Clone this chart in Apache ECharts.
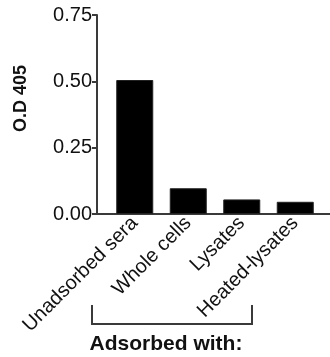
<!DOCTYPE html>
<html><head><meta charset="utf-8">
<script src="https://cdn.jsdelivr.net/npm/echarts@6/dist/echarts.min.js"></script>
<style>html,body{margin:0;padding:0;background:#fff}#c{width:330px;height:357px}</style>
</head><body><div id="c"></div>
<script>
const categories = ['Unadsorbed sera', 'Whole cells', 'Lysates', 'Heated-lysates'];
const odValues = [0.505, 0.097, 0.055, 0.046];
const yTicks = [0, 0.25, 0.5, 0.75];
const yTitle = 'O.D 405';
const groupTitle = 'Adsorbed with:';

const FONT = '"Liberation Sans", Arial, sans-serif';
const axisColor = '#3a3a3a';
const chart = echarts.init(document.getElementById('c'), null, {renderer: 'canvas'});
chart.setOption({
  animation: false,
  backgroundColor: '#fff',
  textStyle: {fontFamily: FONT},
  grid: [
    {left: 108, right: 8, top: 15, bottom: 143},
    {left: 97, right: 0, top: 15, bottom: 143}
  ],
  xAxis: [
    {type: 'category', gridIndex: 0, data: categories,
     axisLine: {show: false}, axisTick: {show: false},
     axisLabel: {rotate: 45, interval: 0, fontSize: 20, color: '#111', fontFamily: FONT, margin: 6}},
    {type: 'value', gridIndex: 1, min: 0, max: 1,
     axisLine: {show: true, lineStyle: {color: axisColor, width: 2}},
     axisTick: {show: false}, axisLabel: {show: false}, splitLine: {show: false}}
  ],
  yAxis: [
    {type: 'value', gridIndex: 0, min: yTicks[0], max: yTicks[yTicks.length - 1], interval: 0.25,
     offset: 11,
     name: yTitle, nameLocation: 'middle', nameRotate: 90, nameGap: 67,
     nameTextStyle: {fontSize: 18, fontWeight: 'bold', color: '#111', fontFamily: FONT, padding: [0, 0, 0, 32]},
     axisLine: {show: true, lineStyle: {color: axisColor, width: 2}},
     axisTick: {show: true, length: 5, lineStyle: {color: axisColor, width: 2}},
     axisLabel: {fontSize: 20, color: '#111', fontFamily: FONT, margin: 5,
                 formatter: v => v.toFixed(2)},
     splitLine: {show: false}},
    {type: 'value', gridIndex: 1, show: false}
  ],
  series: [{
    type: 'bar', xAxisIndex: 0, yAxisIndex: 0, data: odValues,
    barWidth: 37,
    itemStyle: {color: '#000', borderColor: '#222', borderWidth: 1}
  }],
  graphic: [
    {type: 'polyline', shape: {points: [[92, 305], [92, 324], [252, 324], [252, 305]]},
     style: {stroke: axisColor, lineWidth: 2, fill: null}},
    {type: 'text', x: 166, y: 344,
     style: {text: groupTitle, font: 'bold 21px ' + FONT, fill: '#111', align: 'center', verticalAlign: 'middle'}}
  ]
});
</script></body></html>
